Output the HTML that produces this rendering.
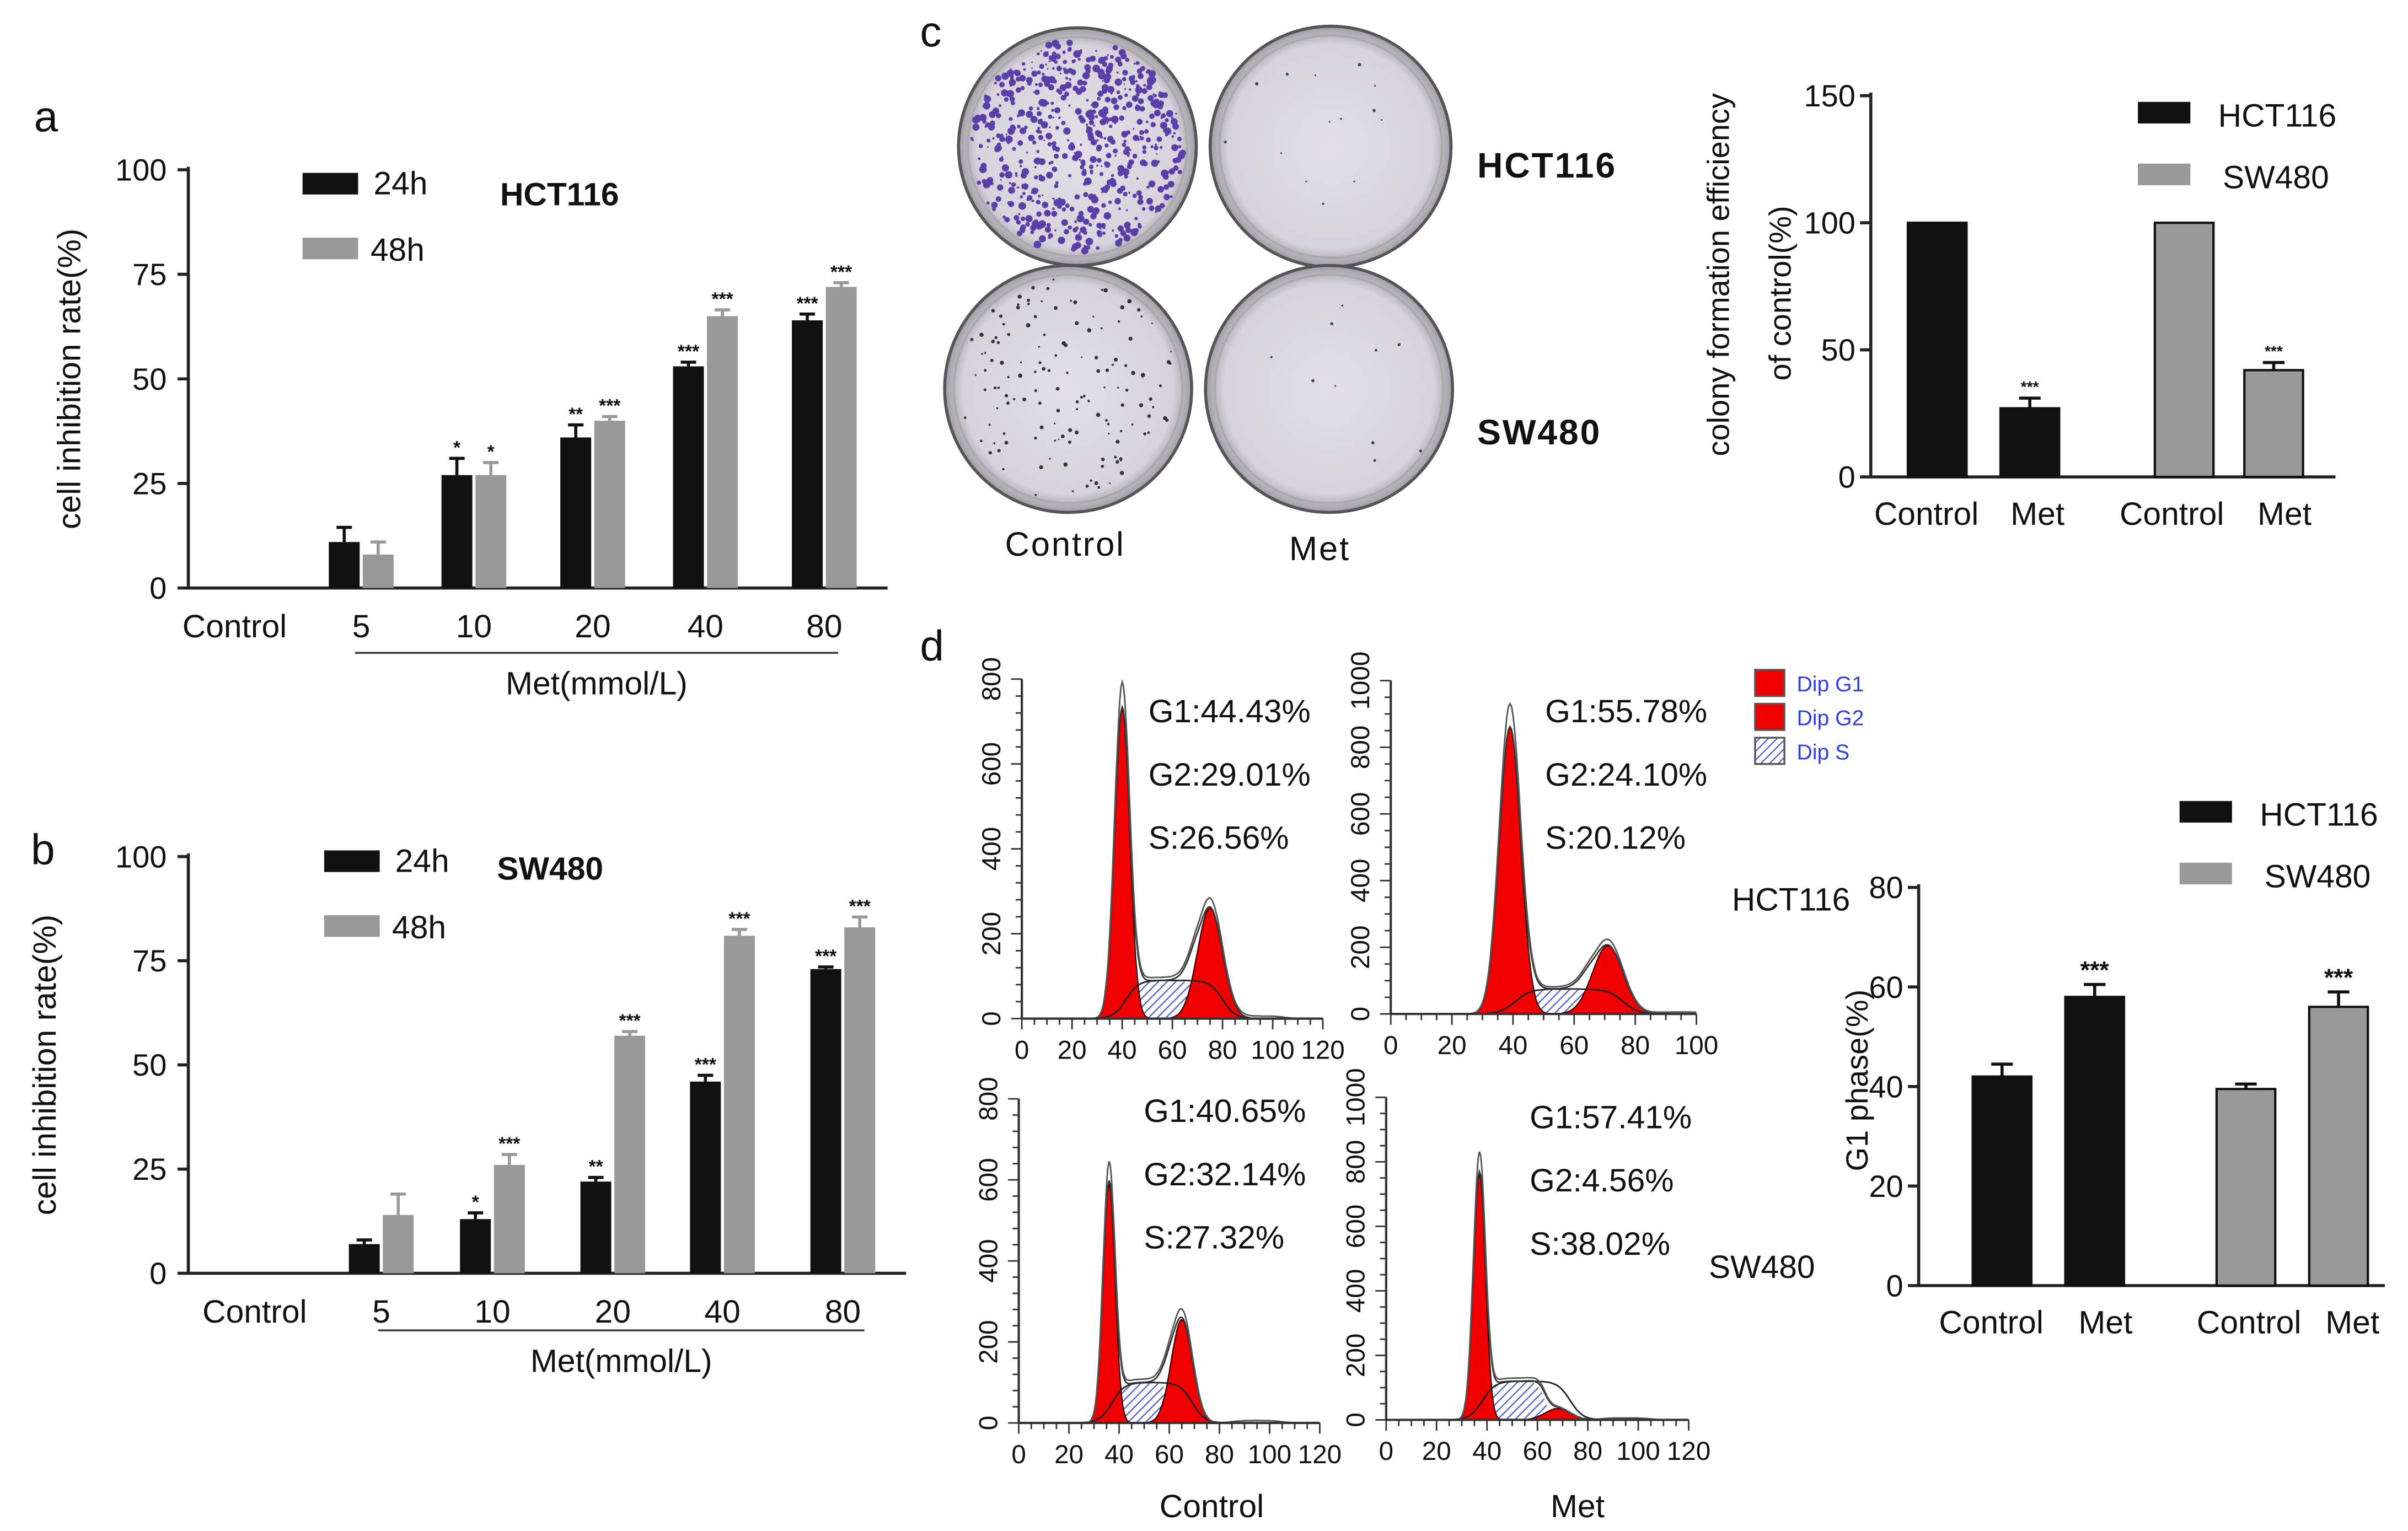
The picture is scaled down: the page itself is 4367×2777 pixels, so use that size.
<!DOCTYPE html>
<html><head><meta charset="utf-8"><style>
html,body{margin:0;padding:0;background:#fff}
svg{display:block}
text{font-family:"Liberation Sans",Arial,sans-serif;fill:#111}
</style></head><body>
<svg id="fig" width="4367" height="2777" viewBox="0 0 1560 992" xmlns="http://www.w3.org/2000/svg">
<defs>
<pattern id="hatch" patternUnits="userSpaceOnUse" width="4" height="4" patternTransform="rotate(45)">
<rect width="4" height="4" fill="#fff"/><line x1="0" y1="0" x2="0" y2="4" stroke="#4b5ad8" stroke-width="1.6"/></pattern>
<radialGradient id="plateg" cx="50%" cy="50%" r="50%"><stop offset="0%" stop-color="#e2e0e6"/><stop offset="85%" stop-color="#d6d3dc"/><stop offset="100%" stop-color="#a09ca6"/></radialGradient>
</defs>
<g id="root"></g>
</svg>
<script>
// ---- data ----
const aCats = ['Control','5','10','20','40','80'];
const a24 = [0,11,27,36,53,64];
const a48 = [0,8,27,40,65,72];
const a24err = [0,3.5,4,3,1,1.5];
const a48err = [0,3,3,1,1.5,1];
const a24stars = ['','','*','**','***','***'];
const a48stars = ['','','*','***','***','***'];
const bCats = ['Control','5','10','20','40','80'];
const b24 = [0,7,13,22,46,73];
const b48 = [0,14,26,57,81,83];
const b24err = [0,1,1.5,1,1.5,0.5];
const b48err = [0,5,2.5,1,1.5,2.5];
const b24stars = ['','','*','**','***','***'];
const b48stars = ['','','***','***','***','***'];
const yTicks100 = [0,25,50,75,100];
const cCats = ['Control','Met','Control','Met'];
const cVals = [100,27,100,42];
const cErr = [0,4,0,3];
const cStars = ['','***','','***'];
const cTicks = [0,50,100,150];
const dCats = ['Control','Met','Control','Met'];
const dVals = [42,58,39.5,56];
const dErr = [2.5,2.5,1,3];
const dStars = ['','***','','***'];
const dTicks = [0,20,40,60,80];
// flow histograms: [G1 mean, G1 sd, G1 height, G2 mean, G2 sd, G2 height, S level]
const hist1 = [40,3,730,75,5,260,90];
const hist2 = [39,3.5,860,71,5,205,75];
const hist3 = [36,2.4,590,65,4.2,255,100];
const hist4 = [37,2.4,760,68,5,35,120];
const histLabels = [['G1:44.43%','G2:29.01%','S:26.56%'],['G1:55.78%','G2:24.10%','S:20.12%'],['G1:40.65%','G2:32.14%','S:27.32%'],['G1:57.41%','G2:4.56%','S:38.02%']];

const NS='http://www.w3.org/2000/svg';
const root=document.getElementById('root');
function el(tag,attrs,parent,txt){const e=document.createElementNS(NS,tag);for(const k in attrs)e.setAttribute(k,attrs[k]);if(txt!==undefined)e.textContent=txt;(parent||root).appendChild(e);return e;}
function T(x,y,s,size,anchor,parent,extra){const t=el('text',Object.assign({x:x,y:y,'font-size':size||20,'text-anchor':anchor||'start'},extra||{}),parent,s);return t;}
function grp(name){const g=el('g',{},root);return g;}

[['a',22,85],['b',20,560],['c',596,30],['d',596,428]].forEach(p=>{const t=T(p[1],p[2],p[0],28);});

function groupedChart(name,cfg){
  const g=grp(name);
  const y=v=>cfg.y0+(cfg.y100-cfg.y0)*v/100;
  el('line',{x1:cfg.x0,y1:cfg.y100-2,x2:cfg.x0,y2:cfg.y0,stroke:'#222','stroke-width':2},g);
  el('line',{x1:cfg.x0,y1:cfg.y0,x2:cfg.x1,y2:cfg.y0,stroke:'#222','stroke-width':2},g);
  yTicks100.forEach(t=>{el('line',{x1:cfg.x0-7,y1:y(t),x2:cfg.x0,y2:y(t),stroke:'#222','stroke-width':2},g);const tl=T(cfg.x0-14,y(t)+7,String(t),20,'end',g);});
  cfg.cats.forEach((c,i)=>{
    const gx=cfg.gx[i];
    const xl=T(gx,cfg.y0+32,c,21,'middle',g);
    [[cfg.s24,cfg.e24,cfg.st24,'#111',-11],[cfg.s48,cfg.e48,cfg.st48,'#999',11]].forEach(s=>{
      const v=s[0][i]; if(v<=0)return;
      const cx=gx+s[4];
      const r=el('rect',{x:cx-10,y:y(v),width:20,height:cfg.y0-y(v),fill:s[3]},g);
      
      const ey=y(v+s[1][i]);
      el('line',{x1:cx,y1:y(v),x2:cx,y2:ey,stroke:s[3],'stroke-width':2},g);
      el('line',{x1:cx-5,y1:ey,x2:cx+5,y2:ey,stroke:s[3],'stroke-width':2},g);
      if(s[2][i])T(cx,ey-3,s[2][i],12,'middle',g,{'font-weight':'bold'});
    });
  });
  el('line',{x1:cfg.lx0,y1:cfg.ly,x2:cfg.lx1,y2:cfg.ly,stroke:'#333','stroke-width':1.2},g);
  T((cfg.lx0+cfg.lx1)/2,cfg.ly+27,'Met(mmol/L)',21,'middle',g);
  const yt=T(0,0,'cell inhibition rate(%)',21,'middle',g,{transform:`translate(${cfg.tx},${(cfg.y0+cfg.y100)/2}) rotate(-90)`});
  
  const lg=el('g',{},g);
  el('rect',{x:cfg.legx,y:cfg.legy,width:36,height:14,fill:'#111'},lg);
  T(cfg.legx+46,cfg.legy+14,'24h',21,'start',lg);
  el('rect',{x:cfg.legx,y:cfg.legy+42,width:36,height:14,fill:'#999'},lg);
  T(cfg.legx+44,cfg.legy+57,'48h',21,'start',lg);
  T(cfg.titx,cfg.tity,cfg.title,21,'start',g,{'font-weight':'bold'});
}
groupedChart('chart-a-hct116',{x0:122,x1:575,y0:381,y100:110,cats:aCats,gx:[152,234,307,384,457,534],s24:a24,s48:a48,e24:a24err,e48:a48err,st24:a24stars,st48:a48stars,lx0:230,lx1:543,ly:423,tx:52,legx:196,legy:112,title:'HCT116',titx:324,tity:133});
groupedChart('chart-b-sw480',{x0:122,x1:587,y0:825,y100:555,cats:bCats,gx:[165,247,319,397,468,546],s24:b24,s48:b48,e24:b24err,e48:b48err,st24:b24stars,st48:b48stars,lx0:245,lx1:560,ly:862,tx:36,legx:210,legy:551,title:'SW480',titx:322,tity:570});

function simpleBars(name,cfg){
  const g=grp(name);
  const y=v=>cfg.y0+(cfg.yTop-cfg.y0)*v/cfg.max;
  el('line',{x1:cfg.x0,y1:cfg.yTop-2,x2:cfg.x0,y2:cfg.y0,stroke:'#222','stroke-width':2},g);
  el('line',{x1:cfg.x0,y1:cfg.y0,x2:cfg.x1,y2:cfg.y0,stroke:'#222','stroke-width':2},g);
  cfg.ticks.forEach(t=>{el('line',{x1:cfg.x0-7,y1:y(t),x2:cfg.x0,y2:y(t),stroke:'#222','stroke-width':2},g);T(cfg.x0-10,y(t)+7,String(t),20,'end',g);});
  cfg.vals.forEach((v,i)=>{
    const cx=cfg.bx[i],col=i<2?'#111':'#999';
    const r=el('rect',{x:cx-19,y:y(v),width:38,height:cfg.y0-y(v),fill:col,stroke:'#111','stroke-width':1.5},g);
    
    if(cfg.err[i]>0){const ey=y(v+cfg.err[i]);el('line',{x1:cx,y1:y(v),x2:cx,y2:ey,stroke:'#111','stroke-width':2},g);el('line',{x1:cx-7,y1:ey,x2:cx+7,y2:ey,stroke:'#111','stroke-width':2},g);
      if(cfg.stars[i])T(cx,ey-4,cfg.stars[i],cfg.starSize,'middle',g,{'font-weight':'bold'});}
    T(cfg.lx[i],cfg.y0+cfg.ldy,cfg.cats[i],21,'middle',g);
  });
  const lg=el('g',{},g);
  el('rect',{x:cfg.legx,y:cfg.legy,width:34,height:14,fill:'#111'},lg);
  T(cfg.legx+52,cfg.legy+16,'HCT116',21,'start',lg);
  el('rect',{x:cfg.legx,y:cfg.legy+40,width:34,height:14,fill:'#999'},lg);
  T(cfg.legx+55,cfg.legy+56,'SW480',21,'start',lg);
  cfg.titles.forEach(tt=>{const t=T(0,0,tt[0],20,'middle',g,{transform:`translate(${tt[1]},${tt[2]}) rotate(-90)`});});
}
simpleBars('chart-c-colony',{x0:1212,x1:1513,y0:309,yTop:62,max:150,ticks:cTicks,vals:cVals,err:cErr,stars:cStars,cats:cCats,bx:[1255,1315,1415,1473],lx:[1248,1320,1407,1480],ldy:31,starSize:10,legx:1385,legy:66,titles:[['colony formation efficiency',1120,178],['of control(%)',1160,190]]});
simpleBars('chart-d-g1',{x0:1243,x1:1545,y0:833,yTop:575,max:80,ticks:dTicks,vals:dVals,err:dErr,stars:dStars,cats:dCats,bx:[1297,1357,1455,1515],lx:[1290,1364,1457,1524],ldy:31,starSize:16,legx:1412,legy:519,titles:[['G1 phase(%)',1210,700]]});

(function(){
  const g=grp('colony-plates');
  let seed=7;const rnd=()=>{seed=(seed*16807)%2147483647;return seed/2147483647;};
  const plates=[[698,95,77,650,'#5b3fa8',2.0],[862,95,78,14,'#444',0.6],[692,252,80,140,'#333',0.9],[861,252,80,10,'#444',0.6]];
  plates.forEach(p=>{
    el('circle',{cx:p[0],cy:p[1],r:p[2],fill:'url(#plateg)',stroke:'#555','stroke-width':2},g);
    el('circle',{cx:p[0],cy:p[1],r:p[2]-6,fill:'none',stroke:'#aaa','stroke-width':1.5},g);
    for(let i=0;i<p[3];i++){const a=rnd()*Math.PI*2,rr=Math.sqrt(rnd())*(p[2]-8);el('circle',{cx:p[0]+rr*Math.cos(a),cy:p[1]+rr*Math.sin(a),r:0.5+rnd()*p[5],fill:p[4]},g);}
  });
  T(957,115,'HCT116',23,'start',g,{'font-weight':'600','letter-spacing':'1'});
  T(957,288,'SW480',23,'start',g,{'font-weight':'600','letter-spacing':'1'});
  T(690,360,'Control',22,'middle',g,{'letter-spacing':'1'});
  T(855,363,'Met',22,'middle',g,{'letter-spacing':'1'});
})();

function gauss(x,m,s,h){return h*Math.exp(-0.5*((x-m)/s)**2);}
function sig(x){return 1/(1+Math.exp(-x));}
function histogram(name,p,cfg,labels){
  const g=grp(name);
  const X=v=>cfg.x0+(cfg.x1-cfg.x0)*v/cfg.xmax, Y=v=>cfg.y0-(cfg.y0-cfg.yTop)*v/cfg.ymax;
  const S=x=>p[6]*sig((x-(p[0]+1.5*p[1]))/1.5)*sig(((p[3]-p[4])-x)/1.5);
  const Sb=x=>p[6]*sig((x-(p[0]+p[1]*0.5))/2.5)*sig(((p[3]+p[4])-x)/2.5);
  function area(f,fill,stroke){let d='M'+X(20)+','+Y(0);for(let x=20;x<=100;x+=0.5)d+='L'+X(x).toFixed(1)+','+Y(f(x)).toFixed(1);d+='L'+X(100)+','+Y(0)+'Z';return el('path',{d:d,fill:fill,stroke:stroke||'none','stroke-width':0.8},g);}
  function line(f,col){let d='';for(let x=0;x<=cfg.xmax;x+=0.5)d+=(x?'L':'M')+X(x).toFixed(1)+','+Y(Math.max(0,f(x))).toFixed(1);return el('path',{d:d,fill:'none',stroke:col,'stroke-width':1},g);}
  area(x=>Math.max(S(x),0),'url(#hatch)');
  area(x=>gauss(x,p[0],p[1],p[2]),'#f00000','#300');
  area(x=>gauss(x,p[3],p[4],p[5]),'#f00000','#300');
  line(Sb,'#222');
  line(x=>gauss(x,p[0],p[1],p[2])+gauss(x,p[3],p[4],p[5])+S(x),'#333');
  line(x=>1.08*(gauss(x,p[0],p[1],p[2])+gauss(x,p[3],p[4],p[5])+S(x))+6*sig((x-85)/2)*sig((105-x)/2),'#555');
  el('line',{x1:cfg.x0,y1:cfg.yTop,x2:cfg.x0,y2:cfg.y0,stroke:'#333','stroke-width':1.5},g);
  el('line',{x1:cfg.x0,y1:cfg.y0,x2:cfg.x1,y2:cfg.y0,stroke:'#333','stroke-width':1.5},g);
  for(let v=0;v<=cfg.ymax;v+=cfg.ymax/20){const big=Math.abs(v%(cfg.ymax/(cfg.ymax>800?5:4)))<1e-6;el('line',{x1:cfg.x0-(big?7:4),y1:Y(v),x2:cfg.x0,y2:Y(v),stroke:'#333','stroke-width':1},g);}
  for(let v=0;v<=cfg.ymax;v+=200)T(0,0,String(v),17,'middle',g,{transform:`translate(${cfg.x0-14},${Y(v)}) rotate(-90)`});
  for(let v=0;v<=cfg.xmax;v+=5){const big=v%20===0;el('line',{x1:X(v),y1:cfg.y0,x2:X(v),y2:cfg.y0+(big?7:4),stroke:'#333','stroke-width':1},g);}
  for(let v=0;v<=cfg.xmax;v+=20)T(X(v),cfg.y0+26,String(v),17,'middle',g);
  labels.forEach((s,i)=>T(cfg.tx,cfg.ty[i],s,21,'start',g));
}
histogram('histogram-hct116-control',hist1,{x0:662,x1:857,y0:660,yTop:440,xmax:120,ymax:800,tx:744,ty:[468,509,550]},histLabels[0]);
histogram('histogram-hct116-met',hist2,{x0:901,x1:1099,y0:657,yTop:441,xmax:100,ymax:1000,tx:1001,ty:[468,509,550]},histLabels[1]);
histogram('histogram-sw480-control',hist3,{x0:660,x1:855,y0:922,yTop:712,xmax:120,ymax:800,tx:741,ty:[727,768,809]},histLabels[2]);
histogram('histogram-sw480-met',hist4,{x0:898,x1:1094,y0:920,yTop:711,xmax:120,ymax:1000,tx:991,ty:[731,772,813]},histLabels[3]);
(function(){
  const g=grp('flow-legend');
  [['Dip G1','#f00000',434],['Dip G2','#f00000',456],['Dip S','url(#hatch)',478]].forEach(r=>{
    el('rect',{x:1137,y:r[2],width:19,height:17,fill:r[1],stroke:'#555','stroke-width':1.2},g);
    T(1164,r[2]+14,r[0],14,'start',g,{style:'fill:#3040e0'});
  });
  T(1122,590,'HCT116',21,'start',g);
  T(1107,828,'SW480',21,'start',g);
  T(785,983,'Control',21,'middle',g);
  T(1022,983,'Met',21,'middle',g);
})();
</script>
</body></html>
